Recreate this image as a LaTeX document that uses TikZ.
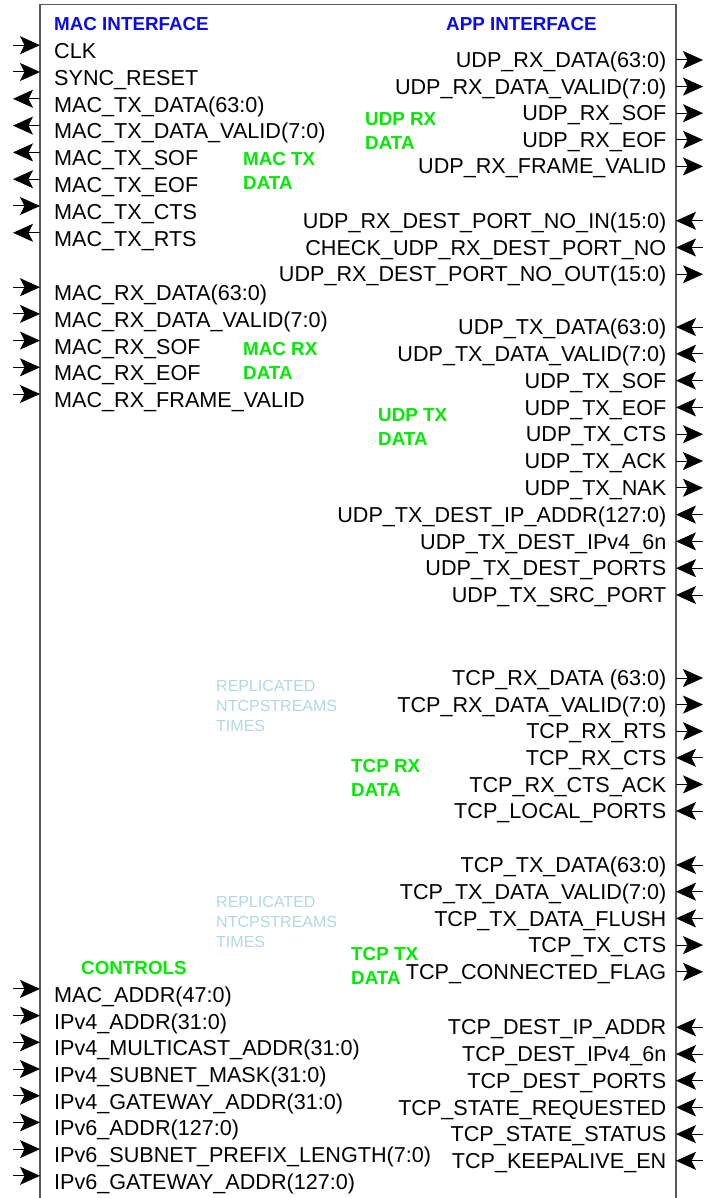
\documentclass[tikz,border=0pt]{standalone}
\usepackage{fontspec}
\setmainfont{Liberation Sans}
\usetikzlibrary{arrows.meta}
\definecolor{grpgreen}{RGB}{0,235,0}
\definecolor{sideblue}{RGB}{10,10,240}
\definecolor{noteblue}{RGB}{173,216,230}

\begin{document}
\begin{tikzpicture}[x=1pt,y=-1pt,
  pin/.style={inner sep=0pt, font=\fontsize{21.6}{24}\selectfont},
  pinl/.style={pin, anchor=base west},
  pinr/.style={pin, anchor=base east},
  wire/.style={draw=black, line width=1pt, >={Stealth[length=20pt,width=18pt,inset=4.5pt]}, ->},
  group/.style={inner sep=0pt, anchor=west, align=left, text=grpgreen, font=\bfseries\fontsize{18.8}{24}\selectfont},
  side/.style={inner sep=0pt, anchor=base west, text=sideblue, font=\bfseries\fontsize{18.8}{24}\selectfont},
  note/.style={inner sep=0pt, anchor=west, align=left, text=noteblue, font=\fontsize{16}{20}\selectfont}]
\useasboundingbox (0,0) rectangle (714,1198);
% block outline, open at the bottom
\draw[black!65, line width=1.3pt] (40,1210) -- (40,4.3) -- (676,4.3) -- (676,1210);
\node[side] (macif) at (54,31) {MAC INTERFACE};
\node[side] (appif) at (446,31) {APP INTERFACE};
% left pins: 1 = input
\foreach \y/\t/\d [count=\i] in {51/CLK/1, 77.8/SYNC\_RESET/1,
    104.6/MAC\_TX\_DATA(63:0)/0, 131.4/MAC\_TX\_DATA\_VALID(7:0)/0,
    158.2/MAC\_TX\_SOF/0, 185/MAC\_TX\_EOF/0, 211.8/MAC\_TX\_CTS/1,
    238.6/MAC\_TX\_RTS/0,
    293/MAC\_RX\_DATA(63:0)/1, 319.7/MAC\_RX\_DATA\_VALID(7:0)/1,
    346.4/MAC\_RX\_SOF/1, 373.1/MAC\_RX\_EOF/1, 399.8/MAC\_RX\_FRAME\_VALID/1,
    994.7/MAC\_ADDR(47:0)/1, 1021.4/IPv4\_ADDR(31:0)/1,
    1048.1/IPv4\_MULTICAST\_ADDR(31:0)/1, 1074.8/IPv4\_SUBNET\_MASK(31:0)/1,
    1101.5/IPv4\_GATEWAY\_ADDR(31:0)/1, 1128.2/IPv6\_ADDR(127:0)/1,
    1154.9/IPv6\_SUBNET\_PREFIX\_LENGTH(7:0)/1,
    1181.6/IPv6\_GATEWAY\_ADDR(127:0)/1} {
  \node[pinl] (L\i) at (54,\y+7.6) {\t};
  \coordinate (Lb\i) at (40,\y-5.8);
  \coordinate (Lo\i) at (13,\y-5.8);
  \ifnum\d=1 \draw[wire] (Lo\i) -- (Lb\i); \else \draw[wire] (Lb\i) -- (Lo\i); \fi
}
% right pins: 1 = output
\foreach \y/\t/\d [count=\i] in {60/UDP\_RX\_DATA(63:0)/1,
    86.6/UDP\_RX\_DATA\_VALID(7:0)/1, 113.2/UDP\_RX\_SOF/1,
    139.8/UDP\_RX\_EOF/1, 166.4/UDP\_RX\_FRAME\_VALID/1,
    220.8/UDP\_RX\_DEST\_PORT\_NO\_IN(15:0)/0,
    247.5/CHECK\_UDP\_RX\_DEST\_PORT\_NO/0,
    274.2/UDP\_RX\_DEST\_PORT\_NO\_OUT(15:0)/1,
    327/UDP\_TX\_DATA(63:0)/0, 353.8/UDP\_TX\_DATA\_VALID(7:0)/0,
    380.6/UDP\_TX\_SOF/0, 407.4/UDP\_TX\_EOF/0, 434.2/UDP\_TX\_CTS/1,
    461/UDP\_TX\_ACK/1, 487.8/UDP\_TX\_NAK/1,
    514.6/UDP\_TX\_DEST\_IP\_ADDR(127:0)/0, 541.4/UDP\_TX\_DEST\_IPv4\_6n/0,
    568.2/UDP\_TX\_DEST\_PORTS/0, 595/UDP\_TX\_SRC\_PORT/0,
    678/TCP\_RX\_DATA (63:0)/1, 704.6/TCP\_RX\_DATA\_VALID(7:0)/1,
    731.2/TCP\_RX\_RTS/1, 757.8/TCP\_RX\_CTS/0, 784.4/TCP\_RX\_CTS\_ACK/1,
    811/TCP\_LOCAL\_PORTS/0,
    865/TCP\_TX\_DATA(63:0)/0, 891.7/TCP\_TX\_DATA\_VALID(7:0)/0,
    918.4/TCP\_TX\_DATA\_FLUSH/0, 945.1/TCP\_TX\_CTS/1,
    971.8/TCP\_CONNECTED\_FLAG/1,
    1027.3/TCP\_DEST\_IP\_ADDR/0, 1054/TCP\_DEST\_IPv4\_6n/0,
    1080.7/TCP\_DEST\_PORTS/0, 1107.4/TCP\_STATE\_REQUESTED/0,
    1134.1/TCP\_STATE\_STATUS/0, 1160.8/TCP\_KEEPALIVE\_EN/0} {
  \node[pinr] (R\i) at (666.5,\y+7.6) {\t};
  \coordinate (Rb\i) at (676,\y);
  \coordinate (Ro\i) at (703,\y);
  \ifnum\d=1 \draw[wire] (Rb\i) -- (Ro\i); \else \draw[wire] (Ro\i) -- (Rb\i); \fi
}
% group captions
\foreach \x/\y/\t [count=\i] in {365/131/UDP RX\\DATA, 243/171.2/MAC TX\\DATA,
    243/360.5/MAC RX\\DATA, 378/427.2/UDP TX\\DATA, 351/778/TCP RX\\DATA,
    351/966.2/TCP TX\\DATA, 81/968/CONTROLS} {
  \node[group] (G\i) at (\x,\y) {\t};
}
\foreach \y [count=\i] in {706,922} {
  \node[note] (N\i) at (216,\y) {REPLICATED\\NTCPSTREAMS\\TIMES};
}
\end{tikzpicture}
\end{document}
